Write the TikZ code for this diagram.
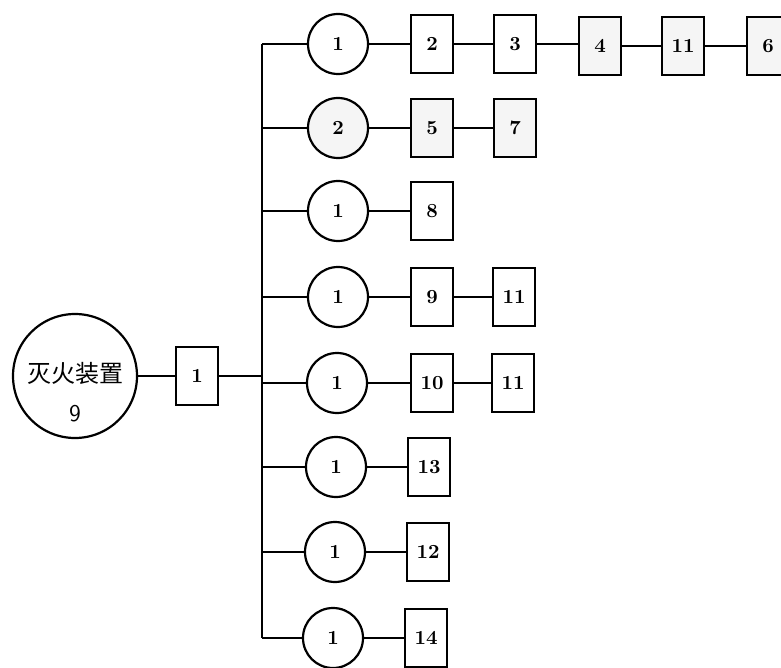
\documentclass[tikz,border=0pt]{standalone}
\usepackage{fontspec}
\newfontfamily\cjk{Noto Sans CJK SC}
\usetikzlibrary{positioning}
\begin{document}
\begin{tikzpicture}[x=0.5pt,y=-0.5pt,
  unit/.style={draw,line width=1.1pt,circle,minimum size=30pt,inner sep=0pt,font=\normalsize\bfseries},
  part/.style={draw,line width=1.1pt,rectangle,minimum width=21pt,minimum height=29pt,inner sep=0pt,font=\normalsize\bfseries},
  shade/.style={fill=gray!8},
  link/.style={line width=0.8pt}]
  \useasboundingbox (0,0) rectangle (781,668);
  \clip (0,0) rectangle (781,668);

  % device and first part
  \node[draw,line width=1.1pt,circle,minimum size=62pt] (dev) at (75,376) {};
  \node[font=\cjk\fontsize{12}{14}\selectfont] (devname) at (75,373) {灭火装置};
  \node[font=\sffamily\fontsize{12}{14}\selectfont] (devnum) at (75,414) {9};
  \node[part] (p0) at (197,376) {1};

  % trunk
  \coordinate (top) at (262,44);
  \coordinate (bot) at (262,638);
  \draw[link] (top) -- (bot);
  \draw[link] (dev) -- (p0);
  \draw[link] (p0.east) -- (p0.east -| top);

  % row 1
  \node[unit] (u1) at (338,44) {1};
  \node[part] (a2) at (432,44) {2};
  \node[part] (a3) at (515,44) {3};
  \node[part,shade] (a4) at (600,46) {4};
  \node[part,shade] (a11) at (683,46) {11};
  \node[part,shade] (a6) at (768,46) {6};
  \draw[link] (top) -- (u1) -- (a2) -- (a3);
  \draw[link] (a3.east) -- (a3.east -| a4.west);
  \draw[link] (a4) -- (a11) -- (a6);

  % row 2
  \node[unit,shade] (u2) at (338,128) {2};
  \node[part,shade] (b5) at (432,128) {5};
  \node[part,shade] (b7) at (515,128) {7};
  \draw[link] (u2.west -| top) -- (u2) -- (b5) -- (b7);

  % row 3
  \node[unit] (u3) at (338,211) {1};
  \node[part] (c8) at (432,211) {8};
  \draw[link] (u3.west -| top) -- (u3) -- (c8);

  % row 4
  \node[unit] (u4) at (338,297) {1};
  \node[part] (d9) at (432,297) {9};
  \node[part] (d11) at (514,297) {11};
  \draw[link] (u4.west -| top) -- (u4) -- (d9) -- (d11);

  % row 5
  \node[unit] (u5) at (337,383) {1};
  \node[part] (e10) at (432,383) {10};
  \node[part] (e11) at (513,383) {11};
  \draw[link] (u5.west -| top) -- (u5) -- (e10) -- (e11);

  % row 6
  \node[unit] (u6) at (336,467) {1};
  \node[part] (f13) at (429,467) {13};
  \draw[link] (u6.west -| top) -- (u6) -- (f13);

  % row 7
  \node[unit] (u7) at (335,552) {1};
  \node[part] (g12) at (428,552) {12};
  \draw[link] (u7.west -| top) -- (u7) -- (g12);

  % row 8
  \node[unit] (u8) at (333,638) {1};
  \node[part] (h14) at (426,638) {14};
  \draw[link] (bot) -- (u8) -- (h14);
\end{tikzpicture}
\end{document}
